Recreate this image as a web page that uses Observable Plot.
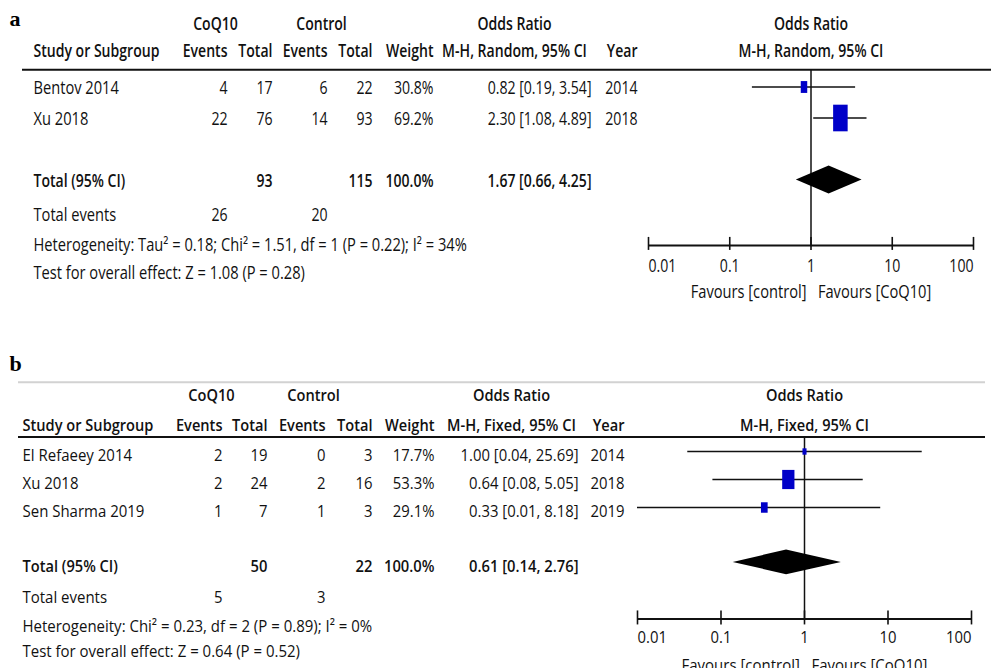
<!DOCTYPE html>
<html><head><meta charset="utf-8">
<script src="https://cdn.jsdelivr.net/npm/d3@7"></script>
<script src="https://cdn.jsdelivr.net/npm/@observablehq/plot@0.6"></script>
<style>
html,body{margin:0;padding:0;background:#fff;overflow:hidden;}
#chart{width:991px;}
#chart svg{display:block;}
</style></head><body><div id="chart"></div>
<script>
// ---------- Panel a data ----------
const aStudy = ["Bentov 2014", "Xu 2018"];
const aCoqEvents = [4, 22];
const aCoqTotal = [17, 76];
const aCtrlEvents = [6, 14];
const aCtrlTotal = [22, 93];
const aWeight = [30.8, 69.2];
const aOR = [0.82, 2.30];
const aLower = [0.19, 1.08];
const aUpper = [3.54, 4.89];
const aYear = [2014, 2018];
const aPooled = [1.67, 0.66, 4.25];          // OR, lower, upper
const aSums = [93, 115, 26, 20];              // CoQ10 total, control total, CoQ10 events, control events
const aMethod = "M-H, Random, 95% CI";
const aHeterogeneity = "Heterogeneity: Tau² = 0.18; Chi² = 1.51, df = 1 (P = 0.22); I² = 34%";
const aOverall = "Test for overall effect: Z = 1.08 (P = 0.28)";

// ---------- Panel b data ----------
const bStudy = ["El Refaeey 2014", "Xu 2018", "Sen Sharma 2019"];
const bCoqEvents = [2, 2, 1];
const bCoqTotal = [19, 24, 7];
const bCtrlEvents = [0, 2, 1];
const bCtrlTotal = [3, 16, 3];
const bWeight = [17.7, 53.3, 29.1];
const bOR = [1.00, 0.64, 0.33];
const bLower = [0.04, 0.08, 0.01];
const bUpper = [25.69, 5.05, 8.18];
const bYear = [2014, 2018, 2019];
const bPooled = [0.61, 0.14, 2.76];
const bSums = [50, 22, 5, 3];
const bMethod = "M-H, Fixed, 95% CI";
const bHeterogeneity = "Heterogeneity: Chi² = 0.23, df = 2 (P = 0.89); I² = 0%";
const bOverall = "Test for overall effect: Z = 0.64 (P = 0.52)";

// ---------- shared labels ----------
const axisTicks = [0.01, 0.1, 1, 10, 100];
const axisTickLabels = ["0.01", "0.1", "1", "10", "100"];
const favoursLabel = "Favours [control]\u00a0\u00a0\u00a0Favours [CoQ10]";

// ---------- styling / layout ----------
const FONT = '"Open Sans", "Liberation Sans", "DejaVu Sans", sans-serif';
const BLUE = "#0000c8";
const HEAVY = 600;

const layoutA = {
  label: "a", labelX: 9, height: 330, row0: 86.5, step: 31, textDy: 1.5, fs: 17.5,
  fit: {regWidth: 434, boldText: "Study or Subgroup", boldWidth: 126, numWidth: 104},
  xRange: [648, 973],
  cols: {study: 33, ev1: 227, tot1: 272, ev2: 327, tot2: 372, weight: 433, or: 591, year: 637, coq: 215, ctrl: 321, orHdr: 514},
  rows: {label: -2.21, hdr1: -2.06, hdr2: -1.19, rule: -0.56, grey: null, total: 3, events: 4.1, het: 5.06, test: 5.97, axis: 5.11, tickLbl: 5.79, favours: 6.63},
  ruleInset: [22, 0], tickUp: 8, tickDown: 5,
  box: [0.21, 0.385], diamondHalf: 0.45
};
const layoutB = {
  label: "b", labelX: 9, height: 338, row0: 121, step: 28, textDy: 4, fs: 17,
  fit: {regWidth: 350, boldText: "Study or Subgroup", boldWidth: 131, numWidth: 118},
  xRange: [637, 971],
  cols: {study: 22, ev1: 222, tot1: 267, ev2: 325, tot2: 372, weight: 434, or: 578, year: 624, coq: 211, ctrl: 313, orHdr: 511},
  rows: {label: -3.14, hdr1: -2.14, hdr2: -1.07, rule: -0.52, grey: -2.475, total: 3.96, events: 5.07, het: 6.1, test: 7.0, axis: 5.98, tickLbl: 6.63, favours: 7.64},
  ruleInset: [18, 6], tickUp: 8, tickDown: 6,
  box: [0.23, 0.36], diamondHalf: 0.44
};

const f2 = v => v.toFixed(2);
const ciText = (o, l, h) => `${f2(o)} [${f2(l)}, ${f2(h)}]`;

const ctx2d = document.createElement("canvas").getContext("2d");
function measure(text, weight, size) {
  ctx2d.font = `${weight} ${size}px ${FONT}`;
  return ctx2d.measureText(text).width;
}
const NUMERIC = /^[0-9.,\[\]\s%]+$/;

function forestPanel(d, L) {
  const c = L.cols, R = L.rows, FS = L.fs;
  const rows = d.study.map((s, i) => ({
    study: s, ce: d.coqEvents[i], ct: d.coqTotal[i], ke: d.ctrlEvents[i], kt: d.ctrlTotal[i],
    w: d.weight[i], or: d.or[i], lo: d.lower[i], hi: d.upper[i], year: d.year[i], row: i
  }));
  const [pOR, pLo, pHi] = d.pooled;
  const diamond = [
    {x: pLo, y1: R.total, y2: R.total},
    {x: pOR, y1: R.total - L.diamondHalf, y2: R.total + L.diamondHalf},
    {x: pHi, y1: R.total, y2: R.total}
  ];
  const [wk, hk] = L.box;
  const boxSymbol = {
    draw(ctx, size) {
      const r = Math.sqrt(size / Math.PI);
      const w = wk * r, h = hk * r;
      ctx.moveTo(-w / 2, -h / 2); ctx.lineTo(w / 2, -h / 2); ctx.lineTo(w / 2, h / 2); ctx.lineTo(-w / 2, h / 2); ctx.closePath();
    }
  };

  const T = (data, opts) => Plot.text(data, {frameAnchor: "left", fontSize: FS, fontFamily: FONT, fill: "#111", dy: L.textDy, ...opts});
  const one = (txt, y, dx, anchor, extra = {}) => T([txt], {y: () => y, text: t => t, dx, textAnchor: anchor, ...extra});
  const bold = {fontWeight: HEAVY};
  const F = (data, opts) => Plot.text(data, {fontSize: FS, fontFamily: FONT, fill: "#111", ...opts});
  const tickIdx = axisTicks.map((_, i) => i);
  const last = axisTicks.length - 1;
  const tickLabelMark = (idx, anchor) => F(idx, {x: i => axisTicks[i], y: () => R.tickLbl, text: i => axisTickLabels[i], textAnchor: anchor});

  const marks = [
    Plot.text([L.label], {frameAnchor: "left", dx: L.labelX, y: () => R.label, text: t => t, textAnchor: "start",
      fontFamily: '"Liberation Serif", "DejaVu Serif", serif', fontWeight: "bold", fontSize: 22, fill: "#000"}),
    one("CoQ10", R.hdr1, c.coq, "middle", bold),
    one("Control", R.hdr1, c.ctrl, "middle", bold),
    one("Odds Ratio", R.hdr1, c.orHdr, "middle", bold),
    one("Study or Subgroup", R.hdr2, c.study, "start", bold),
    one("Events", R.hdr2, c.ev1, "end", bold),
    one("Total", R.hdr2, c.tot1, "end", bold),
    one("Events", R.hdr2, c.ev2, "end", bold),
    one("Total", R.hdr2, c.tot2, "end", bold),
    one("Weight", R.hdr2, c.weight, "end", bold),
    one(d.method, R.hdr2, c.orHdr, "middle", bold),
    one("Year", R.hdr2, c.year, "end", bold),
    F(["Odds Ratio"], {x: () => 1, y: () => R.hdr1, text: t => t, dy: L.textDy, fontWeight: HEAVY}),
    F([d.method], {x: () => 1, y: () => R.hdr2, text: t => t, dy: L.textDy, fontWeight: HEAVY}),
    Plot.ruleY([R.rule], {insetLeft: L.ruleInset[0], insetRight: L.ruleInset[1], stroke: "#111", strokeWidth: 2}),
    T(rows, {y: "row", text: "study", dx: c.study, textAnchor: "start"}),
    T(rows, {y: "row", text: r => String(r.ce), dx: c.ev1, textAnchor: "end"}),
    T(rows, {y: "row", text: r => String(r.ct), dx: c.tot1, textAnchor: "end"}),
    T(rows, {y: "row", text: r => String(r.ke), dx: c.ev2, textAnchor: "end"}),
    T(rows, {y: "row", text: r => String(r.kt), dx: c.tot2, textAnchor: "end"}),
    T(rows, {y: "row", text: r => r.w.toFixed(1) + "%", dx: c.weight, textAnchor: "end"}),
    T(rows, {y: "row", text: r => ciText(r.or, r.lo, r.hi), dx: c.or, textAnchor: "end"}),
    T(rows, {y: "row", text: r => String(r.year), dx: c.year, textAnchor: "end"}),
    one("Total (95% CI)", R.total, c.study, "start", bold),
    one(String(d.sums[0]), R.total, c.tot1, "end", bold),
    one(String(d.sums[1]), R.total, c.tot2, "end", bold),
    one("100.0%", R.total, c.weight, "end", bold),
    one(ciText(pOR, pLo, pHi), R.total, c.or, "end", bold),
    one("Total events", R.events, c.study, "start"),
    one(String(d.sums[2]), R.events, c.ev1, "end"),
    one(String(d.sums[3]), R.events, c.ev2, "end"),
    one(d.heterogeneity, R.het, c.study, "start"),
    one(d.overall, R.test, c.study, "start"),
    Plot.ruleX([1], {x: v => v, y1: () => R.rule, y2: () => R.axis, stroke: "#111", strokeWidth: 1.5}),
    Plot.ruleY(rows, {y: "row", x1: "lo", x2: "hi", stroke: "#111", strokeWidth: 1.6}),
    Plot.dot(rows, {x: "or", y: "row", r: "w", symbol: boxSymbol, fill: BLUE, stroke: "none"}),
    Plot.areaY(diamond, {x: "x", y1: "y1", y2: "y2", fill: "#000"}),
    Plot.ruleY([R.axis], {x1: () => axisTicks[0], x2: () => axisTicks[last], stroke: "#111", strokeWidth: 2}),
    Plot.ruleX(axisTicks, {x: v => v, y1: () => R.axis - L.tickUp / L.step, y2: () => R.axis + L.tickDown / L.step, stroke: "#111", strokeWidth: 1.6}),
    tickLabelMark([0], "start"),
    tickLabelMark(tickIdx.slice(1, last), "middle"),
    tickLabelMark([last], "end"),
    F([favoursLabel], {x: () => 1, y: () => R.favours, text: t => t})
  ];
  if (R.grey != null) {
    marks.unshift(Plot.ruleY([R.grey], {insetLeft: L.ruleInset[0], insetRight: L.ruleInset[1], stroke: "#d2d2d2", strokeWidth: 2}));
  }

  const svg = Plot.plot({
    width: 991, height: L.height, margin: 0,
    x: {type: "log", domain: [axisTicks[0], axisTicks[last]], range: L.xRange, axis: null},
    y: {type: "linear", domain: [0, 1], range: [L.row0, L.row0 + L.step], axis: null},
    r: {type: "identity"},
    style: {fontFamily: FONT, background: "white", overflow: "visible"},
    marks
  });

  // condense the sans-serif text horizontally, as in the (narrow) reference typeface
  const numSample = ciText(d.or[0], d.lower[0], d.upper[0]);
  const kReg = L.fit.regWidth / measure(d.heterogeneity, "normal", FS);
  const kBold = L.fit.boldWidth / measure(L.fit.boldText, HEAVY, FS);
  const kNum = L.fit.numWidth / measure(numSample, "normal", FS);
  const kNumBold = L.fit.numWidth / measure(numSample, HEAVY, FS);
  svg.querySelectorAll("text").forEach(t => {
    const g = t.closest("g");
    const fam = (g && g.getAttribute("font-family")) || "";
    if (fam.includes("Serif")) return;
    const w = g && g.getAttribute("font-weight");
    const isBold = w === "bold" || w === String(HEAVY);
    const isNum = NUMERIC.test(t.textContent);
    const k = isNum ? (isBold ? kNumBold : kNum) : (isBold ? kBold : kReg);
    const tr = t.getAttribute("transform") || "";
    t.setAttribute("transform", `${tr} scale(${k.toFixed(4)},1)`);
  });
  return svg;
}

const panelA = forestPanel({
  study: aStudy, coqEvents: aCoqEvents, coqTotal: aCoqTotal, ctrlEvents: aCtrlEvents, ctrlTotal: aCtrlTotal,
  weight: aWeight, or: aOR, lower: aLower, upper: aUpper, year: aYear, pooled: aPooled, sums: aSums,
  method: aMethod, heterogeneity: aHeterogeneity, overall: aOverall
}, layoutA);
const panelB = forestPanel({
  study: bStudy, coqEvents: bCoqEvents, coqTotal: bCoqTotal, ctrlEvents: bCtrlEvents, ctrlTotal: bCtrlTotal,
  weight: bWeight, or: bOR, lower: bLower, upper: bUpper, year: bYear, pooled: bPooled, sums: bSums,
  method: bMethod, heterogeneity: bHeterogeneity, overall: bOverall
}, layoutB);

document.getElementById("chart").append(panelA, panelB);
</script>
</body></html>
